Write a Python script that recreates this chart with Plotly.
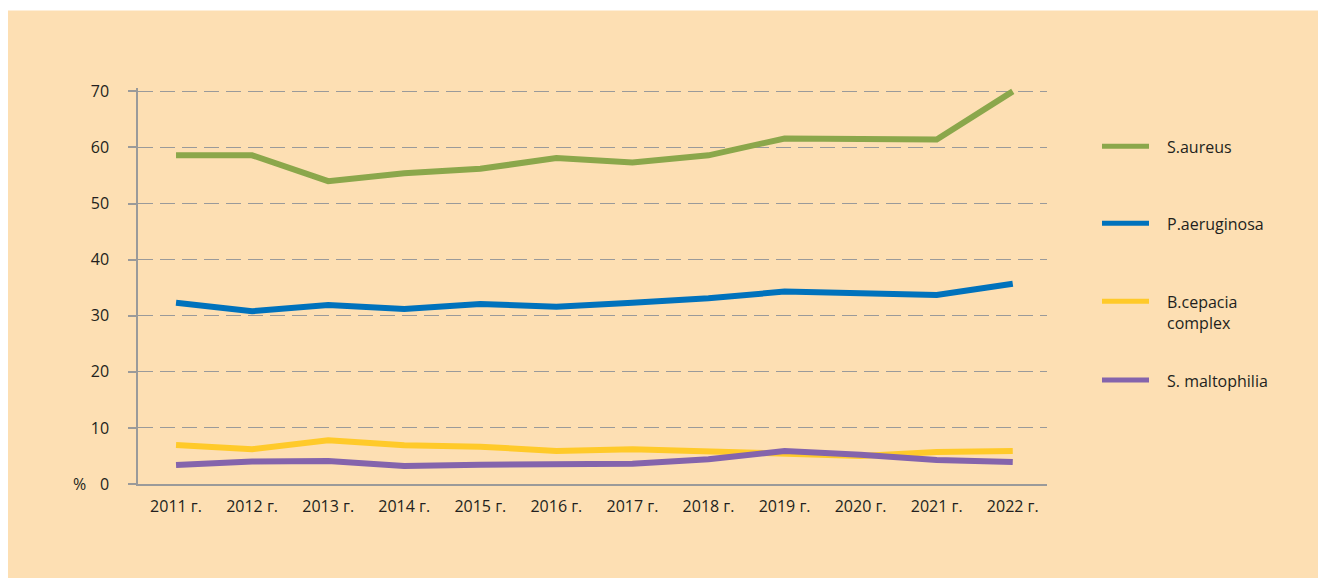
import plotly.graph_objects as go

years = ["2011 г.", "2012 г.", "2013 г.", "2014 г.", "2015 г.", "2016 г.",
         "2017 г.", "2018 г.", "2019 г.", "2020 г.", "2021 г.", "2022 г."]
s_aureus = [58.6, 58.6, 54.0, 55.4, 56.2, 58.1, 57.3, 58.6, 61.6, 61.4, 61.4, 70.0]
p_aeruginosa = [32.3, 30.8, 31.9, 31.2, 32.1, 31.6, 32.3, 33.1, 34.3, 34.1, 33.7, 35.7]
b_cepacia = [6.95, 6.2, 7.8, 6.9, 6.65, 5.9, 6.2, 5.75, 5.4, 5.0, 5.7, 5.9]
s_maltophilia = [3.4, 4.0, 4.1, 3.2, 3.45, 3.6, 3.6, 4.4, 5.9, 5.2, 4.3, 3.9]

series_names = ["S.aureus", "P.aeruginosa", "B.cepacia<br>complex", "S. maltophilia"]
series_values = [s_aureus, p_aeruginosa, b_cepacia, s_maltophilia]
colors = ["#8BA74B", "#0072BC", "#FFCA2A", "#8464AC"]
y_ticks = [0, 10, 20, 30, 40, 50, 60, 70]
Y_MAX = 70.6  # a little head-room so the 70 end point is not clipped

# page body has an 8px margin; work in page pixels and subtract it
OFF = 8
W, H = 1326 - OFF, 587 - OFF
UNIT = (484 - 91) / 70.0
L, R, B = 138 - OFF, 1047 - OFF, 484 - OFF
T = B - Y_MAX * UNIT
BG = "#FDDFB3"
TXT = "#231F20"
GRID = "#9A9A9A"
FONT = "Open Sans"
FS = 16

def px(x):
    return (x - OFF - L) / (R - L)

def py(y):
    return (B - (y - OFF)) / (B - T)

fig = go.Figure()
for name, vals, col in zip(series_names, series_values, colors):
    fig.add_trace(go.Scatter(x=years, y=vals, mode="lines", name=name,
                             line=dict(color=col, width=6),
                             showlegend=False, hoverinfo="x+y+name"))

shapes = [dict(type="rect", xref="paper", yref="paper",
               x0=px(8), x1=px(1318), y0=py(578), y1=py(10),
               fillcolor=BG, line=dict(width=0), layer="below")]
annotations = [dict(text="%", xref="paper", yref="paper", x=px(79), y=py(484),
                    showarrow=False, xanchor="center", yanchor="middle",
                    font=dict(family=FONT, size=FS, color=TXT))]

legend_y = [146, 223, 301, 380]
for name, col, ly in zip(series_names, colors, legend_y):
    shapes.append(dict(type="line", xref="paper", yref="paper",
                       x0=px(1102), x1=px(1149), y0=py(ly), y1=py(ly),
                       line=dict(color=col, width=5)))
    annotations.append(dict(text=name, xref="paper", yref="paper",
                            x=px(1165), y=py(ly - 12), showarrow=False,
                            xanchor="left", yanchor="top", align="left",
                            font=dict(family=FONT, size=FS, color=TXT)))

fig.update_layout(
    width=W, height=H,
    margin=dict(l=L, r=W - R, t=T, b=H - B, pad=0),
    paper_bgcolor="white", plot_bgcolor=BG,
    font=dict(family=FONT, size=FS, color=TXT),
    shapes=shapes, annotations=annotations, showlegend=False,
    xaxis=dict(type="category", range=[-0.5, 11.45], showgrid=False,
               showline=True, linecolor=GRID, linewidth=1.5, ticks="",
               tickfont=dict(family=FONT, size=FS, color=TXT),
               ticklabelstandoff=7, fixedrange=True),
    yaxis=dict(range=[0, Y_MAX], tickvals=y_ticks, showgrid=True,
               gridcolor=GRID, griddash="15px,7px", gridwidth=1.2,
               showline=True, linecolor=GRID, linewidth=1.5,
               ticks="outside", ticklen=8, tickcolor=GRID, tickwidth=1.5,
               zeroline=False, ticklabelstandoff=16,
               tickfont=dict(family=FONT, size=FS, color=TXT), fixedrange=True),
)

fig.write_html("out.html")
